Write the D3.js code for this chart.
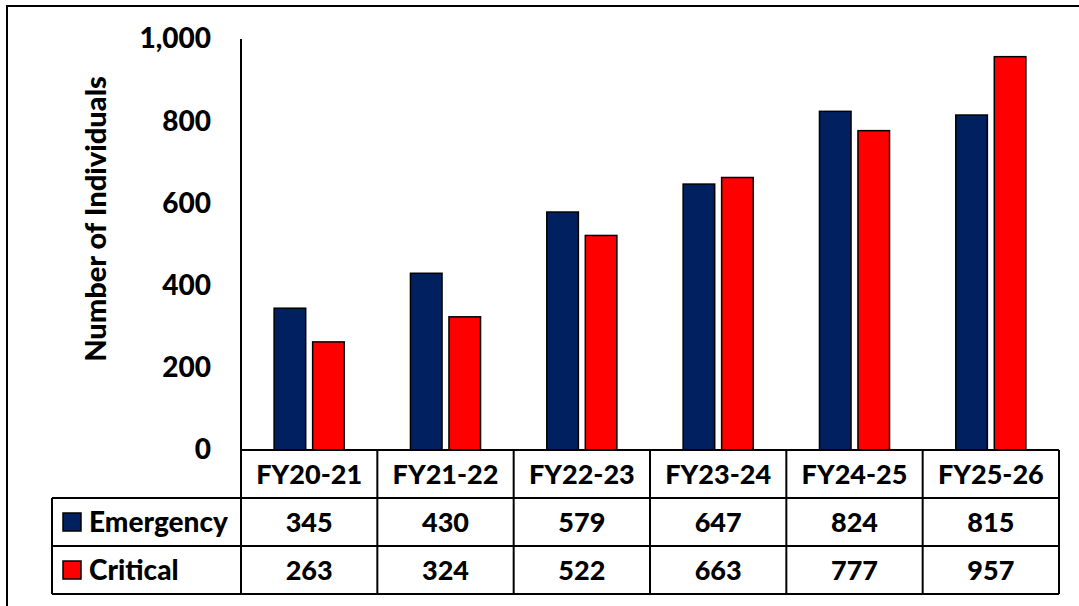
<!DOCTYPE html>
<html>
<head>
<meta charset="utf-8">
<script src="https://cdn.jsdelivr.net/npm/d3@7"></script>
<style>
  body { margin: 0; background: #fff; }
  text { font-family: Lato, "Open Sans", sans-serif; font-weight: 900; fill: #000; }
</style>
</head>
<body>
<div id="chart"></div>
<script>
const categories = ["FY20-21", "FY21-22", "FY22-23", "FY23-24", "FY24-25", "FY25-26"];
const seriesNames = ["Emergency", "Critical"];
const emergency = [345, 430, 579, 647, 824, 815];
const critical = [263, 324, 522, 663, 777, 957];
const yTicks = [0, 200, 400, 600, 800, 1000];
const colors = ["#002060", "#FF0000"];

const width = 1079, height = 606;
const plot = {left: 241, right: 1059, top: 39, bottom: 450};
const rowH = 48;
const fontSize = 27;

const svg = d3.select("#chart").append("svg")
    .attr("width", width)
    .attr("height", height);

// outer frame (runs off the right and bottom edges)
svg.append("rect")
    .attr("x", 7).attr("y", 6)
    .attr("width", width + 10).attr("height", height + 10)
    .attr("fill", "none")
    .attr("stroke", "#000")
    .attr("stroke-width", 2);

// scales
const x0 = d3.scaleBand()
    .domain(categories)
    .range([plot.left, plot.right]);

const x1 = d3.scaleBand()
    .domain(seriesNames)
    .range([0, x0.bandwidth()])
    .paddingInner(0.18)
    .paddingOuter(0.86);

const y = d3.scaleLinear()
    .domain([0, 1000])
    .range([plot.bottom, plot.top]);

// y axis
const yAxis = d3.axisLeft(y)
    .tickValues(yTicks)
    .tickSize(0)
    .tickPadding(30)
    .tickFormat(d3.format(","));

const yAxisGroup = svg.append("g")
    .attr("transform", `translate(${plot.left},0)`)
    .call(yAxis);
yAxisGroup.select(".domain").remove();
yAxisGroup.selectAll("text")
    .style("font-family", "Lato, 'Open Sans', sans-serif")
    .style("font-weight", 900)
    .attr("font-size", 28)
    .attr("fill", "#000");

// y label
svg.append("text")
    .attr("transform", "rotate(-90)")
    .attr("x", -219)
    .attr("y", 106)
    .attr("text-anchor", "middle")
    .attr("font-size", 29)
    .text("Number of Individuals");

// bars
const data = categories.map((c, i) => ({cat: c, values: [emergency[i], critical[i]]}));

const groups = svg.append("g").selectAll("g")
    .data(data)
    .join("g")
    .attr("transform", d => `translate(${x0(d.cat)},0)`);

groups.selectAll("rect")
    .data(d => d.values.map((v, j) => ({name: seriesNames[j], value: v, color: colors[j]})))
    .join("rect")
    .attr("x", d => x1(d.name))
    .attr("y", d => y(d.value))
    .attr("width", x1.bandwidth())
    .attr("height", d => y(0) - y(d.value))
    .attr("fill", d => d.color)
    .attr("stroke", "#000")
    .attr("stroke-width", 1.5);

// data table
const table = svg.append("g");
const legendLeft = 52;
const tableBottom = plot.bottom + rowH * 3;

const lineStyle = sel => sel.attr("stroke", "#000").attr("stroke-width", 2);

// horizontal lines
[0, 1, 2, 3].forEach(r => {
    const yy = plot.bottom + r * rowH;
    table.append("line")
        .attr("x1", r === 0 ? plot.left : legendLeft)
        .attr("x2", plot.right)
        .attr("y1", yy).attr("y2", yy)
        .call(lineStyle);
});

// vertical lines
table.append("line")
    .attr("x1", legendLeft).attr("x2", legendLeft)
    .attr("y1", plot.bottom + rowH).attr("y2", tableBottom)
    .call(lineStyle);
table.append("line")
    .attr("x1", plot.left).attr("x2", plot.left)
    .attr("y1", plot.top).attr("y2", tableBottom)
    .call(lineStyle);
categories.forEach(c => {
    const xx = x0(c) + x0.bandwidth();
    table.append("line")
        .attr("x1", xx).attr("x2", xx)
        .attr("y1", plot.bottom).attr("y2", tableBottom)
        .call(lineStyle);
});

// header labels
table.selectAll(".cat")
    .data(categories)
    .join("text")
    .attr("class", "cat")
    .attr("x", d => x0(d) + x0.bandwidth() / 2)
    .attr("y", plot.bottom + rowH / 2)
    .attr("dy", "0.36em")
    .attr("text-anchor", "middle")
    .attr("font-size", fontSize)
    .text(d => d);

// value rows
[emergency, critical].forEach((vals, r) => {
    const cy = plot.bottom + (r + 1.5) * rowH;
    table.selectAll(".v" + r)
        .data(vals)
        .join("text")
        .attr("class", "v" + r)
        .attr("x", (d, i) => x0(categories[i]) + x0.bandwidth() / 2)
        .attr("y", cy)
        .attr("dy", "0.36em")
        .attr("text-anchor", "middle")
        .attr("font-size", fontSize)
        .text(d => d3.format(",")(d));

    table.append("rect")
        .attr("x", 63).attr("y", cy - 9)
        .attr("width", 18).attr("height", 18)
        .attr("fill", colors[r])
        .attr("stroke", "#000")
        .attr("stroke-width", 1.5);

    table.append("text")
        .attr("x", 89)
        .attr("y", cy)
        .attr("dy", "0.36em")
        .attr("font-size", 28)
        .text(seriesNames[r]);
});
</script>
</body>
</html>
